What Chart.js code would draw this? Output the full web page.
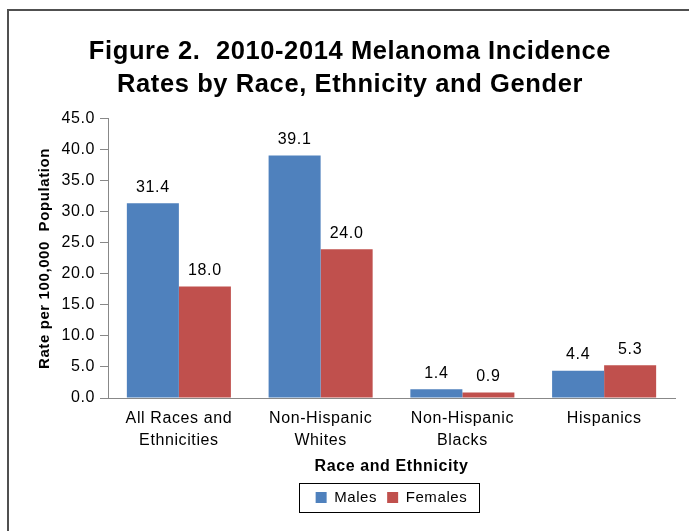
<!DOCTYPE html>
<html>
<head>
<meta charset="utf-8">
<title>Melanoma Incidence Rates</title>
<script src="https://cdn.jsdelivr.net/npm/chart.js@4/dist/chart.umd.min.js"></script>
<style>
  html, body { margin: 0; padding: 0; background: #fff; overflow: hidden; }
  #wrap { position: relative; width: 689px; height: 531px; }
</style>
</head>
<body>
<div id="wrap"><canvas id="chart" width="689" height="531"></canvas></div>
<script>
// Categories (x axis), each possibly split over two lines
const categories = [
  ["All Races and", "Ethnicities"],
  ["Non-Hispanic", "Whites"],
  ["Non-Hispanic", "Blacks"],
  "Hispanics"
];
// Incidence rate per 100,000 population, 2010-2014
const males   = [31.4, 39.1, 1.4, 4.4];
const females = [18.0, 24.0, 0.9, 5.3];
const seriesNames = ["Males", "Females"];
const titleLines = ["Figure 2.  2010-2014 Melanoma Incidence", "Rates by Race, Ethnicity and Gender"];
const yTitle = "Rate per 100,000  Population";
const xTitle = "Race and Ethnicity";

const FONT = "'Liberation Sans', Arial, Helvetica, sans-serif";
const TRACKING = '0.6px';

// Slightly open letter spacing for every text run (measured and drawn)
const tracking = {
  id: 'tracking',
  beforeUpdate(chart) { chart.ctx.letterSpacing = TRACKING; },
  beforeDraw(chart) { chart.ctx.letterSpacing = TRACKING; }
};

// Frame lines along the left and top edges of the figure
const framePlugin = {
  id: 'frame',
  beforeDraw(chart) {
    const ctx = chart.ctx;
    ctx.save();
    ctx.fillStyle = '#fff';
    ctx.fillRect(0, 0, chart.width, chart.height);
    ctx.strokeStyle = '#505050';
    ctx.lineWidth = 2;
    ctx.beginPath();
    ctx.moveTo(8, chart.height);
    ctx.lineTo(8, 10);
    ctx.lineTo(chart.width, 10);
    ctx.stroke();
    ctx.restore();
  }
};

// Centre the legend under the plot area rather than the whole canvas
const legendUnderPlot = {
  id: 'legendUnderPlot',
  afterLayout(chart) {
    const lg = chart.legend;
    if (!lg) return;
    lg.left = chart.chartArea.left;
    lg.right = chart.chartArea.right;
    lg.width = lg.right - lg.left;
  }
};

// Value labels above each bar
const valueLabels = {
  id: 'valueLabels',
  afterDatasetsDraw(chart) {
    const ctx = chart.ctx;
    ctx.save();
    ctx.font = '16px ' + FONT;
    ctx.fillStyle = '#000';
    ctx.textAlign = 'center';
    ctx.textBaseline = 'middle';
    chart.data.datasets.forEach((ds, i) => {
      chart.getDatasetMeta(i).data.forEach((el, j) => {
        ctx.fillText(ds.data[j].toFixed(1), el.x, el.y - 16);
      });
    });
    ctx.restore();
  }
};

// Thin box around the legend items
const legendBox = {
  id: 'legendBox',
  afterDraw(chart) {
    const boxes = chart.legend && chart.legend.legendHitBoxes;
    if (!boxes || !boxes.length) return;
    const left = Math.min(...boxes.map(b => b.left)) - 17;
    const right = Math.max(...boxes.map(b => b.left + b.width)) + 11;
    const top = Math.min(...boxes.map(b => b.top)) - 7;
    const bottom = Math.max(...boxes.map(b => b.top + b.height)) + 7;
    const ctx = chart.ctx;
    ctx.save();
    ctx.strokeStyle = '#000';
    ctx.lineWidth = 1;
    ctx.strokeRect(Math.round(left) + 0.5, Math.round(top) + 0.5, Math.round(right - left), Math.round(bottom - top));
    ctx.restore();
  }
};

new Chart(document.getElementById('chart'), {
  type: 'bar',
  data: {
    labels: categories,
    datasets: [
      { label: seriesNames[0], data: males, backgroundColor: '#4F81BD', categoryPercentage: 0.734, barPercentage: 1.0 },
      { label: seriesNames[1], data: females, backgroundColor: '#C0504D', categoryPercentage: 0.734, barPercentage: 1.0 }
    ]
  },
  options: {
    responsive: false,
    animation: false,
    devicePixelRatio: 1,
    layout: { padding: { left: 25, right: 14, top: 10, bottom: 16 } },
    plugins: {
      title: {
        display: true,
        text: titleLines,
        color: '#000',
        font: { family: FONT, size: 25.5, weight: 'bold', lineHeight: 1.294 },
        padding: { top: 25, bottom: 18 }
      },
      legend: {
        position: 'bottom',
        labels: {
          color: '#000',
          font: { family: FONT, size: 15 },
          boxWidth: 11,
          boxHeight: 11,
          padding: 10
        }
      },
      tooltip: { enabled: false }
    },
    scales: {
      x: {
        grid: { display: false, drawTicks: false },
        border: { display: true, color: '#888', width: 1 },
        ticks: {
          color: '#000',
          font: { family: FONT, size: 16, lineHeight: 1.375 },
          padding: 10,
          maxRotation: 0,
          autoSkip: false
        },
        title: {
          display: true,
          text: xTitle,
          color: '#000',
          font: { family: FONT, size: 16, weight: 'bold' },
          padding: { top: 0, bottom: 4 }
        },
        afterFit(scale) { scale.height = 82; }
      },
      y: {
        min: 0,
        max: 45,
        grid: { drawOnChartArea: false, drawTicks: true, tickLength: 8, color: '#888' },
        border: { display: true, color: '#888', width: 1 },
        ticks: {
          stepSize: 5,
          color: '#000',
          font: { family: FONT, size: 16 },
          padding: 5,
          callback: v => Number(v).toFixed(1)
        },
        title: {
          display: true,
          text: yTitle,
          color: '#000',
          font: { family: FONT, size: 15, weight: 'bold' },
          padding: { top: 11, bottom: 0 }
        },
        afterFit(scale) { scale.width = 83; }
      }
    }
  },
  plugins: [tracking, framePlugin, legendUnderPlot, valueLabels, legendBox]
});
</script>
</body>
</html>
